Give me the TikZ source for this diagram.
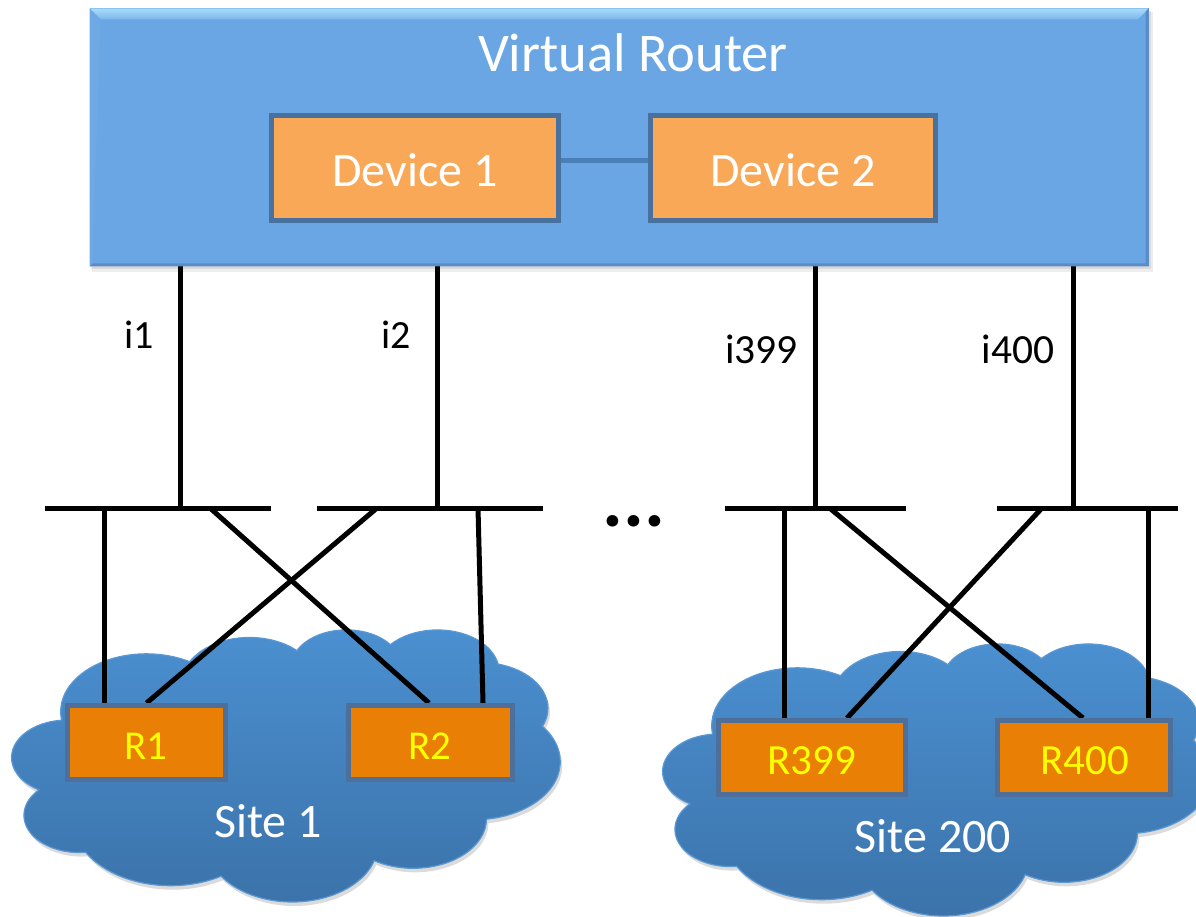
\documentclass[tikz,border=0pt]{standalone}
\usepackage{fontspec}
\setmainfont{Carlito}
\pgfdeclarelayer{bg}
\pgfdeclarelayer{wirelayer}
\pgfsetlayers{bg,wirelayer,main}
\definecolor{vrfill}{HTML}{6AA6E3}
\definecolor{vrline}{HTML}{5F92CC}
\definecolor{vrtop}{HTML}{A8DBFC}
\definecolor{vrleft}{HTML}{6EA9E5}
\definecolor{vrdark}{HTML}{5A8CC6}
\definecolor{devfill}{HTML}{F9A857}
\definecolor{devline}{HTML}{48719F}
\definecolor{devlink}{HTML}{4A7FB8}
\definecolor{rfill}{HTML}{E98005}
\definecolor{rline}{HTML}{4E6F99}
\definecolor{rtext}{HTML}{FFFF00}
\definecolor{cloudtop}{HTML}{4B90D1}
\definecolor{cloudbot}{HTML}{3B72A9}
\definecolor{cloudline}{HTML}{5A98D3}
\tikzset{
  wire/.style={line width=5pt, black},
  vrbox/.style={fill=vrfill, draw=vrline, line width=1pt, inner sep=0pt, minimum width=1058pt, minimum height=257pt},
  devbox/.style={draw=devline, line width=5pt, fill=devfill, inner sep=0pt, minimum height=105pt},
  rbox/.style={draw=rline, line width=5pt, fill=rfill, inner sep=0pt, minimum height=74pt},
  lbl/.style={anchor=base, inner sep=0pt},
  devlinkline/.style={draw=devlink, line width=5pt},
}
\newcommand{\sitecloud}[2]{%
  \begin{scope}[shift={(#1pt,-#2pt)}, x=1.26852pt, y=-0.62963pt]
    \fill[black, opacity=0.14, xshift=2pt, yshift=-4pt]
      (39,143.7) arc[start angle=-187.745, end angle=-59.63, x radius=67.53, y radius=91.90]
      arc[start angle=-152.04, end angle=-45.44, x radius=53.33, y radius=72.67]
      arc[start angle=-153.49, end angle=-37.33, x radius=43.65, y radius=59.45]
      arc[start angle=-139.71, end angle=-10.21, x radius=48.57, y radius=65.95]
      arc[start angle=-74.77, end angle=23.21, x radius=53.33, y radius=72.73]
      arc[start angle=-37.52, end angle=81.86, x radius=67.75, y radius=92.20]
      arc[start angle=0.46, end angle=121.98, x radius=57.85, y radius=78.67]
      arc[start angle=16.845, end angle=146.23, x radius=67.52, y radius=92.15]
      arc[start angle=58.99, end angle=150.19, x radius=77.20, y radius=105.43]
      arc[start angle=-276.69, end angle=-136.89, x radius=43.60, y radius=59.18]
      arc[start angle=-239.65, end angle=-95.89, x radius=43.45, y radius=59.45]
      -- cycle;
    \shade[top color=cloudtop, bottom color=cloudbot, draw=cloudline, line width=1.2pt]
      (39,143.7) arc[start angle=-187.745, end angle=-59.63, x radius=67.53, y radius=91.90]
      arc[start angle=-152.04, end angle=-45.44, x radius=53.33, y radius=72.67]
      arc[start angle=-153.49, end angle=-37.33, x radius=43.65, y radius=59.45]
      arc[start angle=-139.71, end angle=-10.21, x radius=48.57, y radius=65.95]
      arc[start angle=-74.77, end angle=23.21, x radius=53.33, y radius=72.73]
      arc[start angle=-37.52, end angle=81.86, x radius=67.75, y radius=92.20]
      arc[start angle=0.46, end angle=121.98, x radius=57.85, y radius=78.67]
      arc[start angle=16.845, end angle=146.23, x radius=67.52, y radius=92.15]
      arc[start angle=58.99, end angle=150.19, x radius=77.20, y radius=105.43]
      arc[start angle=-276.69, end angle=-136.89, x radius=43.60, y radius=59.18]
      arc[start angle=-239.65, end angle=-95.89, x radius=43.45, y radius=59.45]
      -- cycle;
  \end{scope}}
\begin{document}
\begin{tikzpicture}[x=1pt,y=-1pt]
\useasboundingbox (0,0) rectangle (1196,917);
% clouds
\begin{pgfonlayer}{bg}
  \sitecloud{12}{629}
  \sitecloud{663}{643}
\end{pgfonlayer}
% virtual router
\fill[black, opacity=0.07] (92,12) rectangle (1153,272);
\fill[black, opacity=0.08] (91,11) rectangle (1151,269);
\node[vrbox] (vr) at (619,137.5) {};
\shade[top color=vrtop, bottom color=vrfill!70!vrtop] (vr.north west) -- (vr.north east) -- ([shift={(-11,11)}]vr.north east) -- ([shift={(11,11)}]vr.north west) -- cycle;
\fill[vrleft] (vr.north west) -- ([shift={(11,11)}]vr.north west) -- ([shift={(3,-3)}]vr.south west) -- (vr.south west) -- cycle;
\fill[vrdark] (vr.north east) -- ([shift={(-3,3)}]vr.north east) -- ([shift={(-3,-3)}]vr.south east) -- (vr.south east) -- cycle;
\fill[vrdark] (vr.south west) -- ([shift={(3,-3)}]vr.south west) -- ([shift={(-3,-3)}]vr.south east) -- (vr.south east) -- cycle;
\node[lbl, white, font=\fontsize{54.5}{62}\selectfont] (vrt) at (633,72) {Virtual Router};
% devices
\node[devbox, minimum width=287pt] (dev1) at (415,168) {};
\node[devbox, minimum width=285pt] (dev2) at (793,168) {};
\draw[devlinkline] ([yshift=7pt]dev1.east) -- ([yshift=7pt]dev2.west);
\node[lbl, white, font=\fontsize{48}{56}\selectfont] (dev1t) at (415,187) {Device 1};
\node[lbl, white, font=\fontsize{48}{56}\selectfont] (dev2t) at (793,187) {Device 2};
% routers
\node[rbox, minimum width=158pt] (r1) at (146.5,742.5) {};
\node[rbox, minimum width=164pt] (r2) at (430.5,742.5) {};
\node[rbox, minimum width=187pt] (r399) at (812,757.5) {};
\node[rbox, minimum width=173pt] (r400) at (1084,757.5) {};
\node[lbl, rtext, font=\fontsize{41}{48}\selectfont] (r1t) at (146,759) {R1};
\node[lbl, rtext, font=\fontsize{41}{48}\selectfont] (r2t) at (430,759) {R2};
\node[lbl, rtext, font=\fontsize{43}{50}\selectfont] (r399t) at (812,774) {R399};
\node[lbl, rtext, font=\fontsize{43}{50}\selectfont] (r400t) at (1085,774) {R400};
% sites
\node[lbl, white, font=\fontsize{48}{56}\selectfont] (s1) at (268,837) {Site 1};
\node[lbl, white, font=\fontsize{48}{56}\selectfont] (s200) at (933,852) {Site 200};
% bus coordinates
\coordinate (b1l) at (45,508);  \coordinate (b1r) at (271,508);
\coordinate (b2l) at (317,508); \coordinate (b2r) at (543,508);
\coordinate (b3l) at (725,508); \coordinate (b3r) at (906,508);
\coordinate (b4l) at (997,508); \coordinate (b4r) at (1178,508);
\coordinate (j1) at (180,508);  \coordinate (j2) at (437,508);
\coordinate (j3) at (815,508);  \coordinate (j4) at (1073,508);
\coordinate (d1) at (104,508);  \coordinate (d2) at (210,508);
\coordinate (d3) at (377,508);  \coordinate (d4) at (478,508);
\coordinate (d5) at (784,508);  \coordinate (d6) at (829.5,508);
\coordinate (d7) at (1042,508); \coordinate (d8) at (1148.5,508);
\begin{pgfonlayer}{wirelayer}
  \draw[wire] (vr.south -| j1) -- (j1);
  \draw[wire] (vr.south -| j2) -- (j2);
  \draw[wire] (vr.south -| j3) -- (j3);
  \draw[wire] (vr.south -| j4) -- (j4);
  \draw[wire] (b1l) -- (b1r);
  \draw[wire] (b2l) -- (b2r);
  \draw[wire] (b3l) -- (b3r);
  \draw[wire] (b4l) -- (b4r);
  \draw[wire] (d1) -- (d1 |- r1.north);
  \draw[wire] (d2) -- ([xshift=-1.5pt]r2.north);
  \draw[wire] (d3) -- (r1.north);
  \draw[wire] (d4) -- ([xshift=52.5pt]r2.north);
  \draw[wire] (d5) -- (d5 |- r399.north);
  \draw[wire] (d6) -- ([xshift=-1pt]r400.north);
  \draw[wire] (d7) -- ([xshift=35pt]r399.north);
  \draw[wire] (d8) -- (d8 |- r400.north);
\end{pgfonlayer}
% interface labels
\node[lbl, font=\fontsize{40}{48}\selectfont] (li1) at (139.5,348) {i1};
\node[lbl, font=\fontsize{40}{48}\selectfont] (li2) at (396.5,348) {i2};
\node[lbl, font=\fontsize{41.5}{48}\selectfont] (li399) at (761.5,363) {i399};
\node[lbl, font=\fontsize{41.5}{48}\selectfont] (li400) at (1018,363) {i400};
\node[lbl, font=\fontsize{78}{90}\selectfont\bfseries] (dots) at (634,526) {...};
\end{tikzpicture}
\end{document}
